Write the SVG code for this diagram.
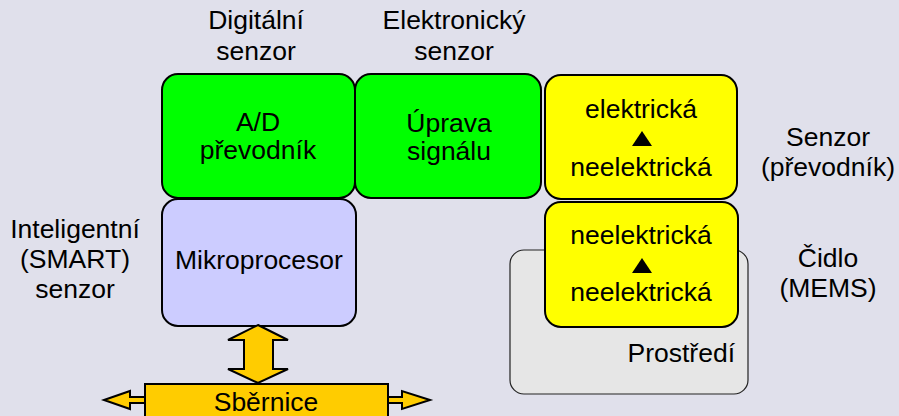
<svg xmlns="http://www.w3.org/2000/svg" width="899" height="416" viewBox="0 0 899 416">
<style>
text{font-family:"Liberation Sans",Arial,sans-serif;font-size:26.5px;fill:#000;text-anchor:middle}
.box{stroke:#000;stroke-width:2}
.g{fill:#00ff00}
.y{fill:#ffff00}
.b{fill:#ccccff}
.env{fill:#e6e6e6;stroke:#222;stroke-width:1.2}
.bus{fill:#ffcc00;stroke:#000;stroke-width:2;stroke-linejoin:miter}
</style>
<rect width="899" height="416" fill="#e0e0eb"/>
<g id="labels">
<text x="256" y="29">Digitální</text>
<text x="256" y="60">senzor</text>
<text x="454" y="29">Elektronický</text>
<text x="454" y="60">senzor</text>
<text x="828" y="146">Senzor</text>
<text x="828" y="176">(převodník)</text>
<text x="828" y="267">Čidlo</text>
<text x="828" y="297">(MEMS)</text>
<text x="75" y="238">Inteligentní</text>
<text x="75" y="268">(SMART)</text>
<text x="75" y="298">senzor</text>
</g>
<g id="prostredi">
<rect class="env" x="510" y="250" width="238" height="144" rx="14"/>
<text x="735" y="362" style="text-anchor:end">Prostředí</text>
</g>
<g id="ad">
<rect class="box g" x="162" y="74" width="193" height="124" rx="16"/>
<text x="258" y="131">A/D</text>
<text x="258" y="159">převodník</text>
</g>
<g id="uprava">
<rect class="box g" x="355" y="74" width="186" height="124" rx="16"/>
<text x="449" y="132">Úprava</text>
<text x="449" y="160">signálu</text>
</g>
<g id="senzor">
<rect class="box y" x="545" y="75" width="192" height="124" rx="16"/>
<text x="641" y="118">elektrická</text>
<polygon points="642,131 652,146 632,146" fill="#000"/>
<text x="641" y="176">neelektrická</text>
</g>
<g id="cidlo">
<rect class="box y" x="545" y="202" width="193" height="125" rx="16"/>
<text x="641" y="244">neelektrická</text>
<polygon points="642,258 652,273 632,273" fill="#000"/>
<text x="641" y="301">neelektrická</text>
</g>
<g id="mikroprocesor">
<rect class="box b" x="162" y="199" width="194" height="127" rx="16"/>
<text x="259" y="269">Mikroprocesor</text>
</g>
<g id="connectors">
<polygon class="bus" points="258,325 288,340 273,340 273,369 288,369 258,383 228,369 244,369 244,340 228,340"/>
<polygon class="bus" points="104,400 130,391 130,397 146,397 146,403 130,403 130,409"/>
<polygon class="bus" points="430,400 402,391 402,397 387,397 387,403 402,403 402,409"/>
</g>
<g id="sbernice">
<rect class="bus" x="145" y="384" width="243" height="40"/>
<text x="266" y="411">Sběrnice</text>
</g>
</svg>
